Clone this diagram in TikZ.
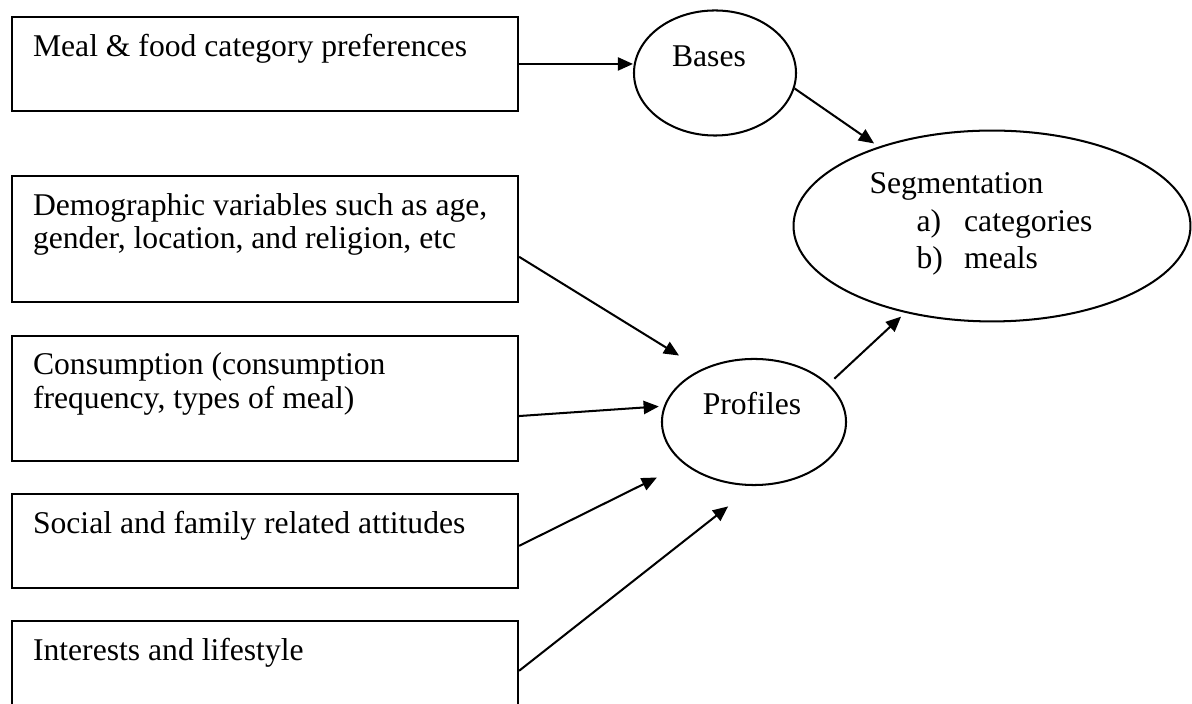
\documentclass[tikz,border=0pt]{standalone}
\usepackage{fontspec}
\setmainfont{Liberation Serif}
\usetikzlibrary{arrows.meta,positioning,shapes.geometric}

\begin{document}
\begin{tikzpicture}[x=0.395pt,y=-0.395pt,node distance=12.5pt,line width=0.8pt,>={Triangle[length=6pt,width=5.2pt]}]
  \tikzset{factor/.style={draw,minimum width=199.9pt,minimum height=37.1pt,inner sep=0pt},
    txt/.style={inner sep=0pt,align=left,font=\fontsize{12.5}{13.3}\selectfont},
    oval/.style={draw,ellipse,inner sep=0pt}}
  \useasboundingbox (0,0) rectangle (1192,704);
  % boxes on the left
  \node[factor,anchor=north west] (pref) at (11,16) {};
  \node[factor,below=24.9pt of pref,minimum height=49.8pt] (demo) {};
  \node[factor,below=of demo,minimum height=49.4pt] (cons) {};
  \node[factor,below=of cons] (social) {};
  \node[factor,below=12.2pt of social,minimum height=35.6pt] (life) {};
  \node[txt,below right=6.1pt and 8.3pt of pref.north west] (tpref) {\strut Meal \& food category preferences};
  \node[txt,below right=6.1pt and 8.3pt of demo.north west] (tdemo) {\strut Demographic variables such as age,\\gender, location, and religion, etc};
  \node[txt,below right=6.1pt and 8.3pt of cons.north west] (tcons) {\strut Consumption (consumption\\frequency, types of meal)};
  \node[txt,below right=6.1pt and 8.3pt of social.north west] (tsocial) {\strut Social and family related attitudes};
  \node[txt,below right=6.1pt and 8.3pt of life.north west] (tlife) {\strut Interests and lifestyle};
  % ovals
  \node[oval,minimum width=64pt,minimum height=49.4pt] (bases) at (715,73) {};
  \node[oval,minimum width=156.8pt,minimum height=75.4pt] (seg) at (992,226) {};
  \node[oval,minimum width=72.7pt,minimum height=49.8pt] (prof) at (754,422) {};
  \node[txt,anchor=base] (tbases) at (709,67) {Bases};
  \node[txt,anchor=base] (tprof) at (752,415) {Profiles};
  \node[txt,anchor=north west] (tseg) at (868.5,169.4) {\strut Segmentation\\[1.5pt]
    \hspace*{18.6pt}\makebox[18.8pt][l]{a)}categories\\[1.5pt]
    \hspace*{18.6pt}\makebox[18.8pt][l]{b)}meals};
  % arrows
  \draw[->] (pref.east) -- (pref.east -| bases.west);
  \draw[->,shorten >=2.2pt] (bases.-11) -- (seg.145);
  \foreach \s/\t/\g in {demo.-4/prof.135/10.3pt,cons.-4/prof.170/2pt,social.-1/prof.211/11.9pt,life.-1.5/prof.270/13pt}{\draw[->,shorten >=\g] (\s) -- (\t);}
  \draw[->,shorten <=3pt,shorten >=2.2pt] (prof.27) -- (seg.225);
\end{tikzpicture}
\end{document}
